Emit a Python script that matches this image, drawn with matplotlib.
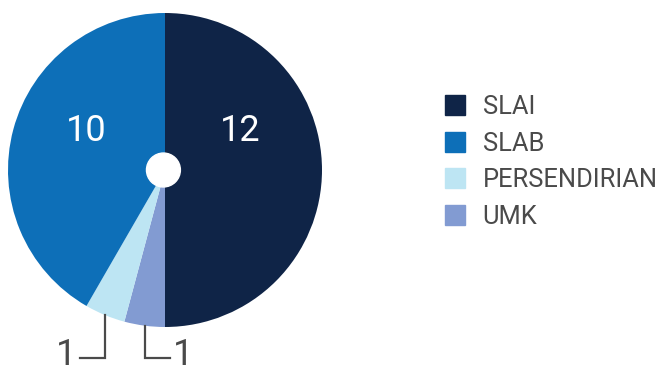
import numpy as np
import matplotlib
matplotlib.use("Agg")
import matplotlib.pyplot as plt
from matplotlib.lines import Line2D

plt.rcParams['font.family'] = ['Roboto', 'DejaVu Sans']

# data
categories = ['SLAI', 'SLAB', 'PERSENDIRIAN', 'UMK']
values = [12, 10, 1, 1]
colors = ['#0f2447', '#0d6fb8', '#bde5f3', '#829bd2']
text_color = '#4a4a4a'

# wedges drawn clockwise from the top in this order
pie_order = ['SLAI', 'UMK', 'PERSENDIRIAN', 'SLAB']

W, H = 659, 366
fig = plt.figure(figsize=(W / 100, H / 100), dpi=100)

cx, cy, r = 165, 170, 157
ax = fig.add_axes([(cx - r) / W, (H - cy - r) / H, 2 * r / W, 2 * r / H])

vals = [values[categories.index(c)] for c in pie_order]
cols = [colors[categories.index(c)] for c in pie_order]
wedges, _ = ax.pie(vals, colors=cols, startangle=90, counterclock=False,
                   radius=1, wedgeprops=dict(linewidth=0))
ax.set_xlim(-1, 1)
ax.set_ylim(-1, 1)
ax.set_aspect('equal')
ax.axis('off')
ax.add_patch(plt.Circle((-0.01, 0), 0.108, color='white', zorder=5))

for w, v in zip(wedges, vals):
    mid = np.deg2rad((w.theta1 + w.theta2) / 2)
    x, y = np.cos(mid), np.sin(mid)
    if v > 1:
        # big slices: value inside, upper half of the slice
        lx = 0.49 * np.sign(x) - 0.01
        ax.text(lx, 0.25, str(v), color='white', fontsize=26,
                ha='center', va='center')
    else:
        # small slices: leader line down, then outwards
        side = -1 if x < -0.25 else 1
        ybot = -1.197
        ax.plot([x, x, x + side * 0.16], [y, ybot, ybot], color=text_color,
                lw=1.6, clip_on=False, solid_joinstyle='miter')
        ax.text(x + side * 0.18, -1.243, str(v), color=text_color,
                fontsize=26, ha='right' if side < 0 else 'left',
                va='baseline', clip_on=False)

handles = [Line2D([], [], marker='s', linestyle='', markersize=13.7,
                  color=c) for c in colors]
fig.legend(handles, categories, loc='upper left',
           bbox_to_anchor=(429 / W, 1 - 82 / H), frameon=False,
           fontsize=18.4, labelcolor=text_color, handlelength=1.0,
           handletextpad=0.6, labelspacing=0.5, borderpad=0)

fig.savefig('out.png', dpi=100)
